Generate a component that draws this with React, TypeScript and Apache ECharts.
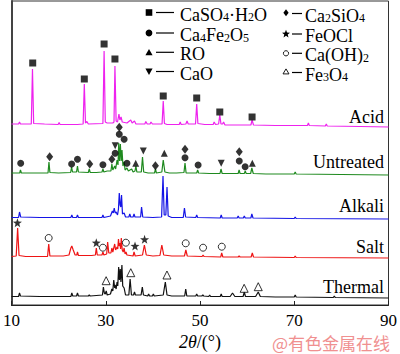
import React, { useEffect, useRef } from "react";
import * as echarts from "echarts";

// ---- axis ----
const X_MIN = 10;
const X_MAX = 90;
const X_STEP = 20;

// ---- samples (2θ, relative intensity) ----
const SAMPLE_NAMES = ["Acid", "Untreated", "Alkali", "Salt", "Thermal"];
const SAMPLE_COLORS = ["#ee22ee", "#1f8a1f", "#1414e6", "#ee1414", "#111111"];
const SAMPLE_OFFSETS = [178, 130, 86, 47, 7];

const ACID = [
  [10, 3], [11.5, 3], [11.7, 5], [11.9, 3], [14.2, 3], [14.45, 58], [14.7, 3.5], [17, 3], [19.9, 2.5], [20.1, 4.5], [20.3, 2.5],
  [24, 2.5], [25.2, 3], [25.45, 43], [25.7, 4], [26.0, 5.5], [26.3, 3], [29.4, 3.5], [29.65, 76], [29.9, 5], [30.3, 4],
  [31.5, 4], [31.75, 5], [31.95, 61], [32.2, 6], [32.5, 5], [32.8, 13], [33.0, 7], [33.25, 10], [33.5, 5], [34.5, 4],
  [35.3, 7], [35.6, 4], [36.1, 6], [36.4, 3], [38.3, 3], [38.5, 5.5], [38.8, 3], [39.4, 3], [39.6, 5], [39.9, 3],
  [41.95, 3], [42.2, 26], [42.45, 3.5], [43, 2.5], [45.6, 2.5], [45.8, 5], [46.0, 2.5], [47.0, 3], [47.25, 6], [47.5, 3],
  [49.05, 3], [49.3, 23], [49.55, 3.5], [51, 2.5], [52.8, 2.5], [53.0, 5], [53.3, 2.5], [53.95, 3], [54.2, 12], [54.45, 3],
  [54.8, 3], [55.0, 5], [55.3, 2], [58, 2], [60.8, 2], [61.05, 7], [61.35, 2], [66, 1.5], [72.8, 1.5], [73.0, 4], [73.2, 1.5],
  [76.6, 1], [76.8, 3], [77.0, 1], [84, 0.5], [90, 0],
];

const UNTREATED = [
  [10, 2], [11.75, 2], [11.9, 5], [12.1, 2], [15, 2], [17.75, 2], [17.95, 13], [18.15, 2.5], [20, 2], [22.55, 2.5], [22.75, 8],
  [22.95, 3], [23.8, 3], [24.0, 9], [24.2, 3], [26.3, 2.5], [26.5, 6], [26.7, 2.5], [28, 2.5], [29.2, 3], [29.4, 6], [29.6, 3],
  [30.3, 4], [31.1, 4], [31.3, 11], [31.5, 5], [31.9, 9], [32.1, 6], [32.4, 15], [32.6, 10], [32.75, 32], [32.92, 14],
  [33.1, 31], [33.28, 14], [33.45, 25], [33.65, 9], [33.9, 13], [34.1, 5], [34.5, 7], [34.8, 4], [35.5, 6], [35.8, 3],
  [36.2, 4], [36.4, 9], [36.6, 3], [37.55, 3], [37.8, 18], [38.05, 3], [39, 2], [40.35, 2], [40.55, 6], [40.75, 2],
  [41.9, 3], [42.2, 15], [42.55, 3], [43.5, 2], [45, 2], [46.6, 2.5], [46.82, 12], [47.05, 2], [49.3, 2], [49.5, 5],
  [49.7, 2], [52, 1.5], [54.25, 1.5], [54.45, 6], [54.7, 1.5], [58.1, 1.5], [58.3, 5], [58.5, 1.5], [59.4, 1.5], [59.6, 4],
  [59.8, 1.5], [60.75, 1.5], [61.0, 7], [61.3, 1.5], [64, 1], [70.0, 1], [70.2, 3], [70.4, 1], [80, 0.5], [90, 0],
];

const ALKALI = [
  [10, 1.5], [11.5, 1.5], [11.7, 7], [11.95, 2], [16, 1.5], [22.6, 1.5], [22.8, 4], [23.0, 1.5], [23.8, 1.5], [24.0, 4],
  [24.2, 1.5], [29.2, 1.5], [29.4, 4], [29.6, 1.5], [31.0, 3], [31.4, 8], [31.6, 6], [31.8, 11], [32.0, 6], [32.2, 7],
  [32.5, 4], [32.7, 10], [32.87, 26], [33.05, 14], [33.2, 12], [33.35, 24], [33.55, 5], [33.9, 6], [34.2, 2], [34.9, 2],
  [35.1, 5], [35.3, 2], [35.8, 2], [36.0, 5], [36.2, 2], [37.4, 2], [37.6, 12], [37.85, 2], [40, 1.5], [41.85, 2],
  [42.15, 43], [42.4, 4], [42.75, 4], [43.0, 32], [43.25, 3], [44, 1.5], [46.45, 1.5], [46.7, 11], [46.95, 2], [49.1, 1.5],
  [49.3, 4], [49.5, 1.5], [54.3, 1], [54.5, 4], [54.7, 1], [57.9, 1], [58.1, 3], [58.3, 1], [59.2, 1], [59.4, 3], [59.6, 1],
  [60.8, 1], [61.0, 5], [61.25, 1], [70.0, 0.5], [70.2, 2], [70.4, 0.5], [90, 0],
];

const SALT = [
  [10, 1.5], [11.0, 2], [11.3, 30], [11.6, 2.5], [13, 1.5], [17.65, 1.5], [17.9, 14], [18.15, 2], [21, 2], [22.2, 3],
  [22.6, 10], [22.8, 12], [23.1, 8], [23.5, 3], [23.85, 3], [24.0, 6], [24.2, 2.5], [27.0, 2.5], [27.8, 3], [28.0, 10],
  [28.2, 3], [29.2, 3], [29.4, 6], [29.6, 3], [30.2, 4], [30.4, 16], [30.65, 5], [31.1, 5], [31.3, 10], [31.5, 6],
  [31.9, 14], [32.1, 8], [32.4, 11], [32.55, 9], [32.7, 19], [32.85, 12], [33.0, 15], [33.15, 9], [33.3, 20], [33.5, 8],
  [33.7, 6], [33.9, 10], [34.1, 4], [34.3, 6], [34.5, 3], [35.8, 2], [36.0, 6], [36.25, 2], [37.8, 3], [38.2, 13],
  [38.6, 3], [40, 2], [41.5, 2.5], [41.9, 13], [42.3, 3], [44, 2], [46.7, 2], [47.0, 8], [47.3, 2], [50.45, 1.5],
  [50.65, 3], [50.85, 1.5], [54.4, 1], [54.6, 5], [54.85, 1], [58.1, 1], [58.3, 2], [58.5, 1], [60.85, 1], [61.1, 5],
  [61.35, 1], [70, 0.5], [70.2, 2], [70.4, 0.5], [90, 0],
];

const THERMAL = [
  [10, 1.5], [11.5, 1.5], [11.7, 5], [11.9, 2], [16, 1.5], [22.6, 1.5], [22.8, 5], [23.0, 2], [23.8, 2], [24.0, 5],
  [24.2, 2], [26.3, 2], [26.5, 3], [26.7, 2], [28, 2.5], [29.3, 3], [29.5, 11], [29.7, 5], [29.9, 4], [30.1, 7], [30.3, 3],
  [31.0, 4], [31.3, 9], [31.5, 7], [31.7, 18], [31.9, 10], [32.0, 13], [32.2, 9], [32.4, 16], [32.55, 12], [32.74, 31],
  [32.9, 18], [33.08, 29], [33.22, 16], [33.43, 33], [33.6, 12], [33.9, 10], [34.2, 3], [34.9, 3], [35.17, 19],
  [35.45, 3], [35.9, 3], [36.1, 6], [36.3, 3], [37.5, 3], [37.76, 11], [38.0, 3], [38.9, 2], [39.1, 4], [39.3, 2],
  [39.9, 2], [40.1, 4], [40.3, 2], [42.2, 3], [42.64, 16], [43.0, 3], [44, 2], [46.75, 2], [46.97, 9], [47.2, 2],
  [49.1, 2], [49.3, 4], [49.5, 2], [50.4, 2], [50.6, 3], [50.8, 2], [51.85, 1.5], [52.05, 3], [52.25, 1.5], [54.3, 1.5],
  [54.5, 4], [54.7, 1.5], [56.4, 1.5], [56.9, 5], [57.4, 1.5], [59.15, 1.5], [59.4, 6], [59.65, 1.5], [61.8, 1.5],
  [62.36, 6], [62.8, 1.5], [66, 1], [70.0, 1], [70.2, 3], [70.4, 1], [78.3, 0.5], [78.5, 2], [78.7, 0.5], [90, 0],
];

const SAMPLES = [ACID, UNTREATED, ALKALI, SALT, THERMAL];

// ---- phase markers (2θ, plot position) ----
const PHASE_NAMES = ["CaSO_4·H_2O", "Ca_4Fe_2O_5", "RO", "CaO", "Ca_2SiO_4", "FeOCl", "Ca(OH)_2", "Fe_3O_4"];
const M_CASO4 = [[14.5, 242], [25.45, 226], [29.65, 261], [31.95, 246], [42.2, 209], [49.3, 207], [54.2, 193], [61.05, 188]];
const M_C4F = [[11.95, 141.7], [22.76, 141], [24.0, 145.7], [29.4, 140.3], [32.0, 151.7], [32.87, 170.7], [33.9, 165.7], [34.5, 141.7], [46.82, 147.3], [49.6, 140], [58.33, 144], [59.58, 138.3]];
const M_RO = [[36.36, 141.7], [42.43, 151.7], [61.1, 141.7]];
const M_CAO = [[32.0, 159.3], [37.97, 154], [54.5, 141.7]];
const M_C2S = [[18.1, 148.3], [26.6, 141], [31.3, 145.7], [32.87, 177.7], [40.54, 139.3], [46.82, 155.7], [58.33, 153.3]];
const M_FEOCL = [[11.26, 82.3], [27.99, 62.3], [36.21, 59], [38.24, 65.7]];
const M_CAOH2 = [[17.89, 67], [29.39, 57.3], [34.27, 62.3], [46.97, 61.7], [50.65, 57.3], [54.62, 58.3]];
const M_FE3O4 = [[30.08, 24.3], [35.31, 32.3], [42.99, 30], [59.37, 16.7], [62.36, 18.3]];
const PHASE_MARKS = [M_CASO4, M_C4F, M_RO, M_CAO, M_C2S, M_FEOCL, M_CAOH2, M_FE3O4];

const SERIF = "'Liberation Serif', 'Times New Roman', serif";
const STAR_PATH = "path://M10,0 L12.35,6.76 L19.51,6.91 L13.8,11.24 L15.88,18.09 L10,14 L4.12,18.09 L6.2,11.24 L0.49,6.91 L7.65,6.76 Z";
const DOWN_TRI = "path://M0,0 L10,0 L5,9 Z";

const PHASE_STYLE: any[] = [
  { symbol: "rect", symbolSize: 7, itemStyle: { color: "#000" } },
  { symbol: "circle", symbolSize: 7, itemStyle: { color: "#000" } },
  { symbol: "triangle", symbolSize: 7, itemStyle: { color: "#000" } },
  { symbol: DOWN_TRI, symbolSize: [7, 7], itemStyle: { color: "#000" } },
  { symbol: "diamond", symbolSize: [7, 9], itemStyle: { color: "#000" } },
  { symbol: STAR_PATH, symbolSize: 9, itemStyle: { color: "#000" } },
  { symbol: "circle", symbolSize: 7, itemStyle: { color: "#fff", borderColor: "#000", borderWidth: 1 } },
  { symbol: "triangle", symbolSize: 8, itemStyle: { color: "#fff", borderColor: "#000", borderWidth: 1 } },
];

function richText(label: string) {
  return ("{t|" + label.replace(/_(\d)/g, "}{s|$1}{t|") + "}").replace(/\{t\|\}/g, "");
}

const RICH = {
  t: { fontSize: 18, fontFamily: SERIF, color: "#000", lineHeight: 17 },
  s: { fontSize: 12, fontFamily: SERIF, color: "#000", lineHeight: 9, verticalAlign: "bottom" },
};

function starPoints(cx: number, cy: number, R: number, r: number) {
  const pts: number[][] = [];
  for (let i = 0; i < 10; i++) {
    const a = (-90 + i * 36) * Math.PI / 180;
    const rad = i % 2 === 0 ? R : r;
    pts.push([cx + rad * Math.cos(a), cy + rad * Math.sin(a)]);
  }
  return pts;
}

function legendGraphics() {
  const g: any[] = [];
  const rows = [12.5, 33, 52.3, 71.5];
  const c1 = 149;
  const c2 = 286;
  const k = { fill: "#000" };
  // column 1 markers
  g.push({ type: "rect", shape: { x: c1 - 3.3, y: rows[0] - 3.3, width: 6.6, height: 6.6 }, style: k });
  g.push({ type: "circle", shape: { cx: c1, cy: rows[1], r: 3.4 }, style: k });
  g.push({ type: "polygon", shape: { points: [[c1 - 3.6, rows[2] + 3], [c1 + 3.6, rows[2] + 3], [c1, rows[2] - 3.4]] }, style: k });
  g.push({ type: "polygon", shape: { points: [[c1 - 3.6, rows[3] - 3], [c1 + 3.6, rows[3] - 3], [c1, rows[3] + 3.4]] }, style: k });
  // column 2 markers
  g.push({ type: "polygon", shape: { points: [[c2, rows[0] - 3.2], [c2 + 2.6, rows[0] + 0.3], [c2, rows[0] + 3.8], [c2 - 2.6, rows[0] + 0.3]] }, style: k });
  g.push({ type: "polygon", shape: { points: starPoints(c2, rows[1] + 1, 4.2, 1.8) }, style: k });
  g.push({ type: "circle", shape: { cx: c2, cy: rows[2] + 1, r: 2.6 }, style: { fill: "#fff", stroke: "#000", lineWidth: 0.9 } });
  g.push({ type: "polygon", shape: { points: [[c2 - 3, rows[3] + 2.4], [c2 + 3, rows[3] + 2.4], [c2, rows[3] - 2.6]] }, style: { fill: "#fff", stroke: "#000", lineWidth: 0.9 } });
  for (let i = 0; i < 4; i++) {
    g.push({ type: "line", shape: { x1: 156, y1: rows[i], x2: 174, y2: rows[i] }, style: { stroke: "#000", lineWidth: 1.2 } });
    g.push({ type: "line", shape: { x1: 292, y1: rows[i] + 1, x2: 302, y2: rows[i] + 1 }, style: { stroke: "#000", lineWidth: 1.2 } });
    g.push({ type: "text", x: 180, y: rows[i] + 2, style: { text: richText(PHASE_NAMES[i]), rich: RICH, verticalAlign: "middle", align: "left" } });
    g.push({ type: "text", x: 305, y: rows[i] + 3, style: { text: richText(PHASE_NAMES[i + 4]), rich: RICH, verticalAlign: "middle", align: "left" } });
  }
  return g;
}

const LABEL_Y = [116.5, 161.7, 205.5, 246.7, 286.7];

export default function App() {
  const ref = useRef<HTMLDivElement>(null);
  useEffect(() => {
    document.body.style.margin = "0";
    if (!ref.current) return;
    const chart = echarts.init(ref.current, undefined, { renderer: "svg" });

    const lineSeries = SAMPLES.map((pts, i) => ({
      type: "line",
      name: SAMPLE_NAMES[i],
      data: pts.map(([t, v]) => [t, v + SAMPLE_OFFSETS[i]]),
      symbol: "none",
      lineStyle: { color: SAMPLE_COLORS[i], width: 1.2 },
      z: 2,
      silent: true,
    }));
    const markSeries = PHASE_MARKS.map((pts, i) => ({
      type: "scatter",
      name: PHASE_NAMES[i],
      data: pts,
      ...PHASE_STYLE[i],
      z: 5,
      silent: true,
    }));

    const graphics: any[] = [
      ...legendGraphics(),
      ...SAMPLE_NAMES.map((n, i) => ({
        type: "text", x: 384, y: LABEL_Y[i],
        style: { text: n, fontSize: 18, fontFamily: SERIF, fill: "#000", align: "right", verticalAlign: "middle" },
      })),
      {
        type: "text", x: 200, y: 342,
        style: {
          text: "{i|2θ}{n|/(°)}", align: "center", verticalAlign: "middle",
          rich: {
            i: { fontSize: 18, fontFamily: SERIF, fontStyle: "italic", color: "#000" },
            n: { fontSize: 18, fontFamily: SERIF, color: "#000" },
          },
        },
      },
      {
        type: "text", x: 390, y: 342,
        style: { text: "@有色金属在线", fontSize: 17, lineHeight: 17, fontFamily: "'Noto Sans CJK SC', sans-serif", fill: "#f09090", align: "right", verticalAlign: "middle" },
      },
    ];

    chart.setOption({
      animation: false,
      grid: { left: 9, right: 8, top: 1, bottom: 49, show: true, borderColor: "#333", borderWidth: 1 },
      xAxis: {
        type: "value", min: X_MIN, max: X_MAX, interval: X_STEP,
        axisLine: { lineStyle: { color: "#222", width: 1 } },
        axisTick: { inside: true, length: 4, lineStyle: { color: "#222" } },
        axisLabel: { fontSize: 17, fontFamily: SERIF, color: "#000", margin: 7 },
        splitLine: { show: false },
      },
      yAxis: {
        type: "value", min: 0, max: 304,
        axisLine: { show: true, lineStyle: { color: "#444", width: 2 } },
        axisTick: { show: false }, axisLabel: { show: false }, splitLine: { show: false },
      },
      series: [...lineSeries, ...markSeries],
      graphic: graphics,
    });
    return () => chart.dispose();
  }, []);
  return <div ref={ref} style={{ width: 400, height: 354 }} />;
}
